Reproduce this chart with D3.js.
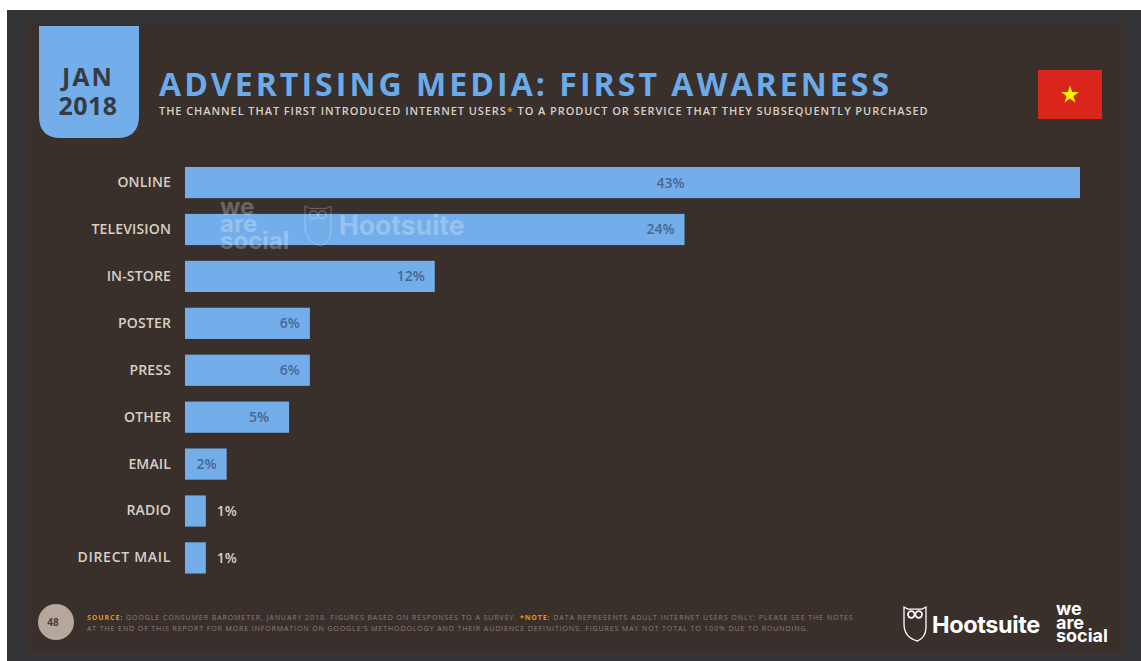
<!DOCTYPE html>
<html>
<head>
<meta charset="utf-8">
<script src="https://cdn.jsdelivr.net/npm/d3@7/dist/d3.min.js"></script>
<style>
  html, body { margin: 0; padding: 0; background: #fff; overflow: hidden; }
  svg { display: block; font-family: "Open Sans", sans-serif; }
</style>
</head>
<body>
<svg id="chart" width="1141" height="661"></svg>
<script>
const categories = ["ONLINE", "TELEVISION", "IN-STORE", "POSTER", "PRESS", "OTHER", "EMAIL", "RADIO", "DIRECT MAIL"];
const shares = [43, 24, 12, 6, 6, 5, 2, 1, 1];
const dateLines = ["JAN", "2018"];
const titleText = "ADVERTISING MEDIA: FIRST AWARENESS";
const subtitleParts = [
  ["THE CHANNEL THAT FIRST INTRODUCED INTERNET USERS", false],
  ["*", true],
  [" TO A PRODUCT OR SERVICE THAT THEY SUBSEQUENTLY PURCHASED", false]
];
const footerLineOne = [
  ["SOURCE:", true],
  [" GOOGLE CONSUMER BAROMETER, JANUARY 2018. FIGURES BASED ON RESPONSES TO A SURVEY. ", false],
  ["*NOTE:", true],
  [" DATA REPRESENTS ADULT INTERNET USERS ONLY; PLEASE SEE THE NOTES", false]
];
const footerLineTwo = "AT THE END OF THIS REPORT FOR MORE INFORMATION ON GOOGLE'S METHODOLOGY AND THEIR AUDIENCE DEFINITIONS. FIGURES MAY NOT TOTAL TO 100% DUE TO ROUNDING.";
const pageNumber = "48";
const brandName = "Hootsuite";
const partnerLines = ["we", "are", "social"];

const BLUE = "#74aeea", PANEL = "#392f2b", FRAME = "#333437", CREAM = "#d8cfc5", AMBER = "#e8930c";
const svg = d3.select("#chart");

// Slide frame and panel
svg.append("rect").attr("x", 7).attr("y", 10).attr("width", 1134).attr("height", 651).attr("fill", FRAME);
svg.append("rect").attr("x", 26).attr("y", 23).attr("width", 1100).attr("height", 630).attr("fill", PANEL);

// Date tab with rounded lower corners
const tab = d3.path();
tab.moveTo(39, 26); tab.lineTo(139, 26); tab.lineTo(139, 116);
tab.quadraticCurveTo(139, 138, 117, 138); tab.lineTo(61, 138);
tab.quadraticCurveTo(39, 138, 39, 116); tab.closePath();
svg.append("path").attr("d", tab.toString()).attr("fill", BLUE);
svg.selectAll("text.date").data(dateLines).join("text").attr("class", "date")
  .attr("x", 88).attr("y", (d, i) => 85.5 + i * 29.5)
  .attr("text-anchor", "middle").attr("fill", "#333b44")
  .attr("font-size", 25).attr("font-weight", 700).attr("letter-spacing", (d, i) => i ? 0.4 : 2)
  .text(d => d);

// Headline
svg.append("text").attr("x", 159).attr("y", 96).attr("fill", "#6babea")
  .attr("font-size", 32).attr("font-weight", 700).attr("letter-spacing", 3.05).text(titleText);

const subtitle = svg.append("text").attr("x", 159).attr("y", 114.5).attr("fill", CREAM)
  .attr("font-size", 11).attr("font-weight", 600).attr("letter-spacing", 0.93);
subtitle.selectAll("tspan").data(subtitleParts).join("tspan")
  .attr("fill", d => d[1] ? AMBER : null).text(d => d[0]);

// Flag
svg.append("rect").attr("x", 1038).attr("y", 70).attr("width", 64).attr("height", 49).attr("fill", "#d9251b");
svg.append("path").attr("transform", "translate(1070,95)")
  .attr("d", d3.symbol(d3.symbolStar, 100)()).attr("fill", "#fff200");

// Bars
const x = d3.scaleLinear().domain([0, 43]).range([185, 1080]);
const y = d3.scaleBand().domain(categories).range([159, 581.5]).paddingInner(0.335).paddingOuter(0.17);

const rows = categories.map((name, i) => ({ name, value: shares[i] }));
svg.append("g").selectAll("rect").data(rows).join("rect")
  .attr("x", x(0)).attr("y", d => y(d.name))
  .attr("width", d => x(d.value) - x(0)).attr("height", y.bandwidth())
  .attr("fill", BLUE);

// Category axis
const axis = svg.append("g").attr("transform", "translate(171,0)")
  .call(d3.axisLeft(y).tickSize(0).tickPadding(0));
axis.select(".domain").remove();
axis.selectAll("text").attr("fill", CREAM).attr("font-family", "'Open Sans', sans-serif")
  .attr("font-size", 14).attr("font-weight", 600).attr("letter-spacing", d => d === "DIRECT MAIL" ? 0.7 : 0.15);

// Value labels: inside the bar's end, outside when the bar is too short
const labelEnd = d => {
  if (d.value < 2) return x(d.value) + 31;
  const end = Math.min(x(d.value) - 10, x(24));
  return d.name === "OTHER" ? end - 10 : end;
};
svg.append("g").selectAll("text").data(rows).join("text")
  .attr("x", labelEnd).attr("y", d => y(d.name) + y.bandwidth() / 2 + 5)
  .attr("text-anchor", "end").attr("font-size", 14).attr("font-weight", 600)
  .attr("fill", d => d.value < 2 ? CREAM : "#46688f")
  .text(d => d.value + "%");

// Brand marks
function owl(g, w, h, stroke, sw, opacity) {
  const p = d3.path();
  p.moveTo(0, 0); p.lineTo(w * 0.18, h * 0.06); p.lineTo(w * 0.82, h * 0.06); p.lineTo(w, 0);
  p.lineTo(w, h * 0.62); p.quadraticCurveTo(w * 0.98, h * 0.9, w * 0.62, h);
  p.quadraticCurveTo(0, h * 0.9, 0, h * 0.5); p.closePath();
  g.append("path").attr("d", p.toString()).attr("fill", "none")
    .attr("stroke", stroke).attr("stroke-width", sw).attr("opacity", opacity);
  [0.33, 0.67].forEach(c => g.append("circle")
    .attr("cx", w * c).attr("cy", h * 0.22).attr("r", w * 0.15)
    .attr("fill", "none").attr("stroke", stroke).attr("stroke-width", sw * 1.3).attr("opacity", opacity));
}
// The stacked wordmark is one text element with a tspan per line
function partner(g, size, lineGap, fill) {
  g.append("text")
    .attr("font-family", "Inter, sans-serif").attr("font-weight", 700)
    .attr("font-size", size).attr("fill", fill)
    .selectAll("tspan").data(partnerLines).join("tspan")
    .attr("x", 0).attr("dy", (d, i) => i ? lineGap : 0).text(d => d);
}

// Faint watermark across the second bar
const ghost = "rgba(255,255,255,0.27)";
partner(svg.append("g").attr("transform", "translate(220,215)"), 24, 17, ghost);
owl(svg.append("g").attr("transform", "translate(305,206)"), 26, 40, "#fff", 1, 0.27);
svg.append("text").attr("x", 339).attr("y", 235).attr("font-family", "Inter, sans-serif")
  .attr("font-weight", 700).attr("font-size", 26.5).attr("fill", ghost).text(brandName);

// Footer logos
owl(svg.append("g").attr("transform", "translate(904,607)"), 22, 34, "#fff", 1.3, 1);
svg.append("text").attr("x", 932).attr("y", 633).attr("font-family", "Inter, sans-serif")
  .attr("font-weight", 700).attr("font-size", 23.5).attr("letter-spacing", -0.4).attr("fill", "#fff").text(brandName);
partner(svg.append("g").attr("transform", "translate(1056,615)"), 18, 13.5, "#fff");

// Page number badge
svg.append("circle").attr("cx", 56).attr("cy", 622).attr("r", 18).attr("fill", "#b5a79c");
svg.append("text").attr("x", 53).attr("y", 626).attr("text-anchor", "middle")
  .attr("font-size", 10).attr("font-weight", 700).attr("fill", "#4a3f3a").text(pageNumber);

// Source notes
const source = svg.append("text").attr("x", 87).attr("y", 620)
  .attr("font-size", 7).attr("letter-spacing", 0.93).attr("fill", "#8d8177");
source.selectAll("tspan").data(footerLineOne).join("tspan")
  .attr("fill", d => d[1] ? AMBER : null).attr("font-weight", d => d[1] ? 700 : 400).text(d => d[0]);
svg.append("text").attr("x", 87).attr("y", 631)
  .attr("font-size", 7).attr("letter-spacing", 0.9).attr("fill", "#8d8177").text(footerLineTwo);
</script>
</body>
</html>
